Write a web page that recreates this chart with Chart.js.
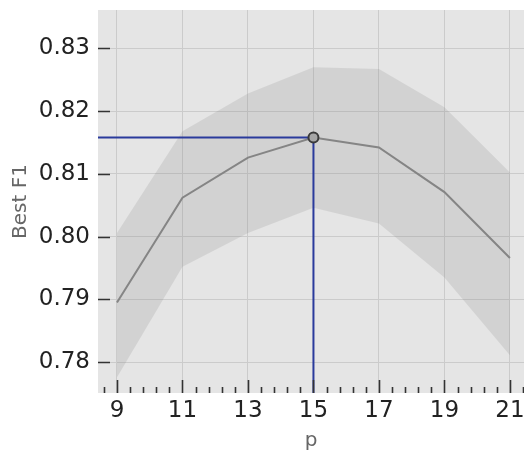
<!DOCTYPE html>
<html>
<head>
<meta charset="utf-8">
<script src="https://cdn.jsdelivr.net/npm/chart.js@4/dist/chart.umd.min.js"></script>
<style>
  body { margin: 0; background: #fff; }
  #wrap { width: 524px; height: 450px; }
</style>
</head>
<body>
<div id="wrap"><canvas id="f1chart" width="524" height="450"></canvas></div>
<script>
// values
var pValues = [9, 11, 13, 15, 17, 19, 21];
var meanF1  = [0.7895, 0.8062, 0.8126, 0.8158, 0.8142, 0.8071, 0.7966];
var upperF1 = [0.8006, 0.8168, 0.8228, 0.8270, 0.8267, 0.8206, 0.8102];
var lowerF1 = [0.7776, 0.7952, 0.8006, 0.8046, 0.8021, 0.7935, 0.7811];
var xTicks = [9, 11, 13, 15, 17, 19, 21];
var yTicks = [0.78, 0.79, 0.80, 0.81, 0.82, 0.83];
var bestP = 15;
var bestF1 = 0.8158;
var xMin = 8.42, xMax = 21.43;
var yMin = 0.7751, yMax = 0.8361;

function pts(ys) {
  return pValues.map(function (p, i) { return { x: p, y: ys[i] }; });
}

// grey plot background
var areaBg = {
  id: 'areaBg',
  beforeDraw: function (chart) {
    var a = chart.chartArea, ctx = chart.ctx;
    ctx.save();
    ctx.fillStyle = '#e5e5e5';
    ctx.fillRect(a.left, a.top, a.right - a.left, a.bottom - a.top);
    ctx.restore();
  }
};

// inward ticks + minor x ticks
var innerTicks = {
  id: 'innerTicks',
  afterDraw: function (chart) {
    var a = chart.chartArea, ctx = chart.ctx;
    var xs = chart.scales.x, ys = chart.scales.y;
    ctx.save();
    ctx.strokeStyle = '#333';
    ctx.lineWidth = 1.6;
    ctx.beginPath();
    yTicks.forEach(function (v) {
      var y = Math.round(ys.getPixelForValue(v)) + 0.5;
      ctx.moveTo(a.left, y);
      ctx.lineTo(a.left + 12, y);
    });
    var first = -Math.floor((xTicks[0] - xMin) / 0.4);
    for (var i = first; xTicks[0] + i * 0.4 <= xMax + 1e-9; i++) {
      var x = Math.round(xs.getPixelForValue(xTicks[0] + i * 0.4)) + 0.5;
      var len = (i % 5 === 0) ? 13 : 6;
      ctx.moveTo(x, a.bottom);
      ctx.lineTo(x, a.bottom - len);
    }
    ctx.stroke();
    ctx.restore();
  }
};

Chart.defaults.font.family = "'DejaVu Sans', sans-serif";

var ctx = document.getElementById('f1chart').getContext('2d');
var myChart = new Chart(ctx, {
  type: 'line',
  data: {
    datasets: [{
      label: 'upper',
      data: pts(upperF1),
      borderWidth: 0,
      pointRadius: 0,
      backgroundColor: 'rgba(128,128,128,0.18)',
      fill: '+1',
      order: 5,
    }, {
      label: 'lower',
      data: pts(lowerF1),
      borderWidth: 0,
      pointRadius: 0,
      fill: false,
      order: 5,
    }, {
      label: 'mean',
      data: pts(meanF1),
      borderColor: '#858585',
      borderWidth: 2,
      pointRadius: 0,
      fill: false,
      order: 4,
    }, {
      label: 'best',
      data: [{ x: xMin, y: bestF1 }, { x: bestP, y: bestF1 }, { x: bestP, y: yMin }],
      borderColor: '#2a3b9c',
      borderWidth: 2,
      pointRadius: 0,
      fill: false,
      clip: false,
      order: 3,
    }, {
      label: 'marker',
      data: [{ x: bestP, y: bestF1 }],
      showLine: false,
      pointRadius: 5,
      pointBackgroundColor: '#a6a6a6',
      pointBorderColor: '#3a3a3a',
      pointBorderWidth: 2,
      order: 1,
    }],
  },
  options: {
    responsive: false,
    animation: false,
    layout: { autoPadding: false, padding: { top: 10, right: 0, bottom: 0, left: 0 } },
    plugins: {
      legend: { display: false },
      tooltip: { enabled: false },
    },
    scales: {
      x: {
        type: 'linear',
        min: xMin,
        max: xMax,
        afterBuildTicks: function (s) { s.ticks = xTicks.map(function (v) { return { value: v }; }); },
        afterFit: function (s) { s.height = 57; s.paddingLeft = 0; s.paddingRight = 0; },
        border: { display: false },
        grid: { color: '#cbcbcb', lineWidth: 1, drawTicks: false },
        ticks: {
          color: '#222',
          font: { size: 23 },
          padding: 4,
          maxRotation: 0,
        },
        title: {
          display: true,
          text: 'p',
          color: '#666',
          font: { size: 20 },
          padding: { top: 0, bottom: -3 },
        },
      },
      y: {
        min: yMin,
        max: yMax,
        afterBuildTicks: function (s) { s.ticks = yTicks.map(function (v) { return { value: v }; }); },
        afterFit: function (s) { s.width = 98; s.paddingTop = 0; s.paddingBottom = 0; },
        border: { display: false },
        grid: { color: '#cbcbcb', lineWidth: 1, drawTicks: false },
        ticks: {
          color: '#222',
          font: { size: 23 },
          padding: 8,
          callback: function (v) { return v.toFixed(2); },
        },
        title: {
          display: true,
          text: 'Best F1',
          color: '#666',
          font: { size: 20 },
          padding: { top: 9, bottom: 0 },
        },
      },
    },
  },
  plugins: [areaBg, innerTicks],
});
</script>
</body>
</html>
